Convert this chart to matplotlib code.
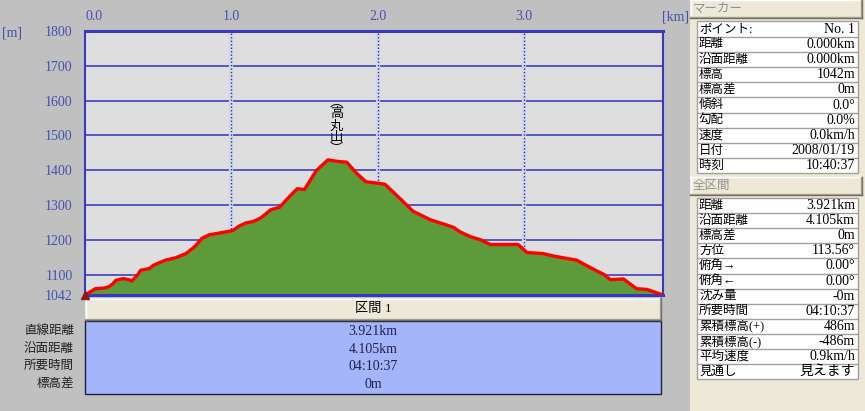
import matplotlib
matplotlib.use("Agg")
import matplotlib.pyplot as plt
from matplotlib.patches import Rectangle

plt.rcParams['font.family'] = ['Liberation Serif', 'Noto Sans CJK JP', 'DejaVu Sans']
plt.rcParams['font.size'] = 9

# ---- data ----
dist_km = [0.0, 0.04, 0.07, 0.13, 0.16, 0.19, 0.21, 0.26, 0.30, 0.32, 0.36, 0.38,
           0.44, 0.47, 0.55, 0.62, 0.69, 0.75, 0.80, 0.85, 0.92, 1.01, 1.05, 1.10,
           1.15, 1.20, 1.23, 1.27, 1.33, 1.40, 1.45, 1.50, 1.58, 1.66, 1.72, 1.79,
           1.85, 1.92, 2.00, 2.05, 2.17, 2.24, 2.36, 2.45, 2.52, 2.56, 2.63, 2.70,
           2.77, 2.90, 2.96, 3.02, 3.13, 3.20, 3.36, 3.47, 3.55, 3.59, 3.68, 3.77,
           3.84, 3.95]
elev_m = [1042, 1052, 1060, 1062, 1065, 1074, 1084, 1089, 1086, 1082, 1100, 1113,
          1118, 1128, 1142, 1149, 1161, 1181, 1205, 1215, 1220, 1227, 1239, 1249,
          1253, 1263, 1273, 1287, 1294, 1326, 1347, 1345, 1399, 1430, 1426, 1423,
          1394, 1367, 1363, 1360, 1312, 1283, 1258, 1246, 1236, 1224, 1210, 1201,
          1187, 1187, 1187, 1164, 1161, 1154, 1142, 1117, 1100, 1086, 1088, 1060,
          1058, 1042]
x_ticks = [0, 1, 2, 3]
x_tick_labels = ["0.0", "1.0", "2.0", "3.0"]
y_ticks = [1042, 1100, 1200, 1300, 1400, 1500, 1600, 1700, 1800]
y_tick_labels = [str(v) for v in y_ticks]
peak_name = "高丸山"
peak_km = 1.72

section_title = "区間 1"
section_labels = ["直線距離", "沿面距離", "所要時間", "標高差"]
section_values = ["3.921km", "4.105km", "04:10:37", "0m"]

marker_labels = ["ポイント:", "距離", "沿面距離", "標高", "標高差", "傾斜", "勾配", "速度", "日付", "時刻"]
marker_values = ["No. 1", "0.000km", "0.000km", "1042m", "0m", "0.0°", "0.0%", "0.0km/h", "2008/01/19", "10:40:37"]
total_labels = ["距離", "沿面距離", "標高差", "方位", "俯角→", "俯角←", "沈み量", "所要時間",
                "累積標高(+)", "累積標高(-)", "平均速度", "見通し"]
total_values = ["3.921km", "4.105km", "0m", "113.56°", "0.00°", "0.00°", "-0m", "04:10:37",
                "486m", "-486m", "0.9km/h", "見えます"]

W, H = 865, 411
BG = '#c0c0c0'
PANEL = '#ece9d8'
AXCOL = '#4650b0'
NUMSIZE = 10

fig = plt.figure(figsize=(W / 100, H / 100), dpi=100, facecolor=BG)

# overlay for widgets
ov = fig.add_axes([0, 0, 1, 1], zorder=0)
ov.set_xlim(0, W)
ov.set_ylim(H, 0)
ov.axis('off')

# main chart
L, R, T, B = 85, 663, 31, 295
ax = fig.add_axes([L / W, 1 - B / H, (R - L) / W, (B - T) / H], zorder=2)
ax.set_facecolor('#dedede')
ax.fill_between(dist_km, elev_m, 1042, color='#5c9a3a', zorder=2, lw=0)
ax.plot(dist_km, elev_m, color='#ff0000', lw=2.4, zorder=3)
ax.set_xlim(0, 3.95)
ax.set_ylim(1042, 1800)
for v in y_ticks[1:-1]:
    ax.axhline(v, color='#4040c0', lw=1.2, zorder=1)
for v in x_ticks[1:]:
    ax.axvline(v, color='#d0d8f0', lw=3, zorder=1)
    ax.axvline(v, color='#303090', lw=1, ls=(0, (1, 1.5)), zorder=1.5)
ax.set_yticks(y_ticks)
ax.set_yticklabels(y_tick_labels, color=AXCOL, fontsize=NUMSIZE)
ax.set_xticks(x_ticks)
ax.set_xticklabels(x_tick_labels, color=AXCOL, fontsize=NUMSIZE)
ax.xaxis.tick_top()
ax.tick_params(axis='x', length=0, pad=6)
ax.tick_params(axis='y', length=0, pad=9)
ax.get_xticklabels()[0].set_horizontalalignment('left')
for s in ['top', 'right', 'bottom']:
    ax.spines[s].set_color('#3838c0')
ax.spines['top'].set_linewidth(2.2)
ax.spines['right'].set_linewidth(1.5)
ax.spines['bottom'].set_linewidth(2.2)
ax.spines['left'].set_color('#3838c0')
ax.spines['left'].set_linestyle((0, (1, 1)))
ax.spines['left'].set_linewidth(1.5)

# peak name (vertical)
ax.text(peak_km, 1440, "︵\n" + "\n".join(peak_name) + "\n︶", ha='center', va='bottom',
        fontsize=9.5, linespacing=1.0, color='black', zorder=4)
# start marker
ax.plot([0], [1042], marker='^', ms=6, color='#8b1a1a', clip_on=False, zorder=5)

ov.text(2, 33, "[m]", color=AXCOL, va='center', ha='left', fontsize=NUMSIZE)
ov.text(689, 17, "[km]", color=AXCOL, va='center', ha='right', fontsize=NUMSIZE)


def button(x0, y0, x1, y1):
    ov.add_patch(Rectangle((x0, y0), x1 - x0, y1 - y0, fc=PANEL, ec='none'))
    ov.plot([x0, x1], [y0 + 0.5, y0 + 0.5], color='white', lw=1)
    ov.plot([x0 + 0.5, x0 + 0.5], [y0, y1], color='white', lw=1)
    ov.plot([x0, x1], [y1 - 1, y1 - 1], color='#aca899', lw=1)
    ov.plot([x1 - 1, x1 - 1], [y0, y1], color='#aca899', lw=1)
    ov.plot([x0, x1], [y1, y1], color='#716f64', lw=1)
    ov.plot([x1, x1], [y0, y1], color='#716f64', lw=1)


# section header and table below chart
button(L, 298, 661, 320)
ov.text((L + 661) / 2, 309, section_title, ha='center', va='center', color='black', fontsize=9.5)
ov.add_patch(Rectangle((L, 321), 661 - L, 394 - 321, fc='#a5b5fa', ec='#202040', lw=1))
row_y = [331, 349, 366, 384]
for yy, lab, val in zip(row_y, section_labels, section_values):
    ov.text(74, yy, lab, ha='right', va='center', color='#202020')
    ov.text(373, yy, val, ha='center', va='center', color='#202050', fontsize=NUMSIZE)

# right panel
ov.add_patch(Rectangle((690, 0), W - 690, H, fc=PANEL, ec='none'))


def table(y0, rowh, labels, values):
    x0, x1 = 697, 858
    n = len(labels)
    ov.add_patch(Rectangle((x0, y0), x1 - x0, rowh * n, fc='white', ec='#a0a0a0', lw=1))
    for i, (lab, val) in enumerate(zip(labels, values)):
        yy = y0 + rowh * i
        if i > 0:
            ov.plot([x0, x1], [yy, yy], color='#a0a0a0', lw=1)
        ov.text(x0 + 2, yy + rowh / 2, lab, ha='left', va='center', color='black')
        ov.text(x1 - 3, yy + rowh / 2, val, ha='right', va='center', color='black',
                fontsize=NUMSIZE)


button(690, 0, 862, 18)
ov.text(693, 9, "マーカー", ha='left', va='center', color='#909090')
table(21.5, 15.2, marker_labels, marker_values)
button(690, 177, 862, 195)
ov.text(693, 186, "全区間", ha='left', va='center', color='#909090')
table(198, 15.1, total_labels, total_values)

fig.savefig("out.png", dpi=100, facecolor=BG)
